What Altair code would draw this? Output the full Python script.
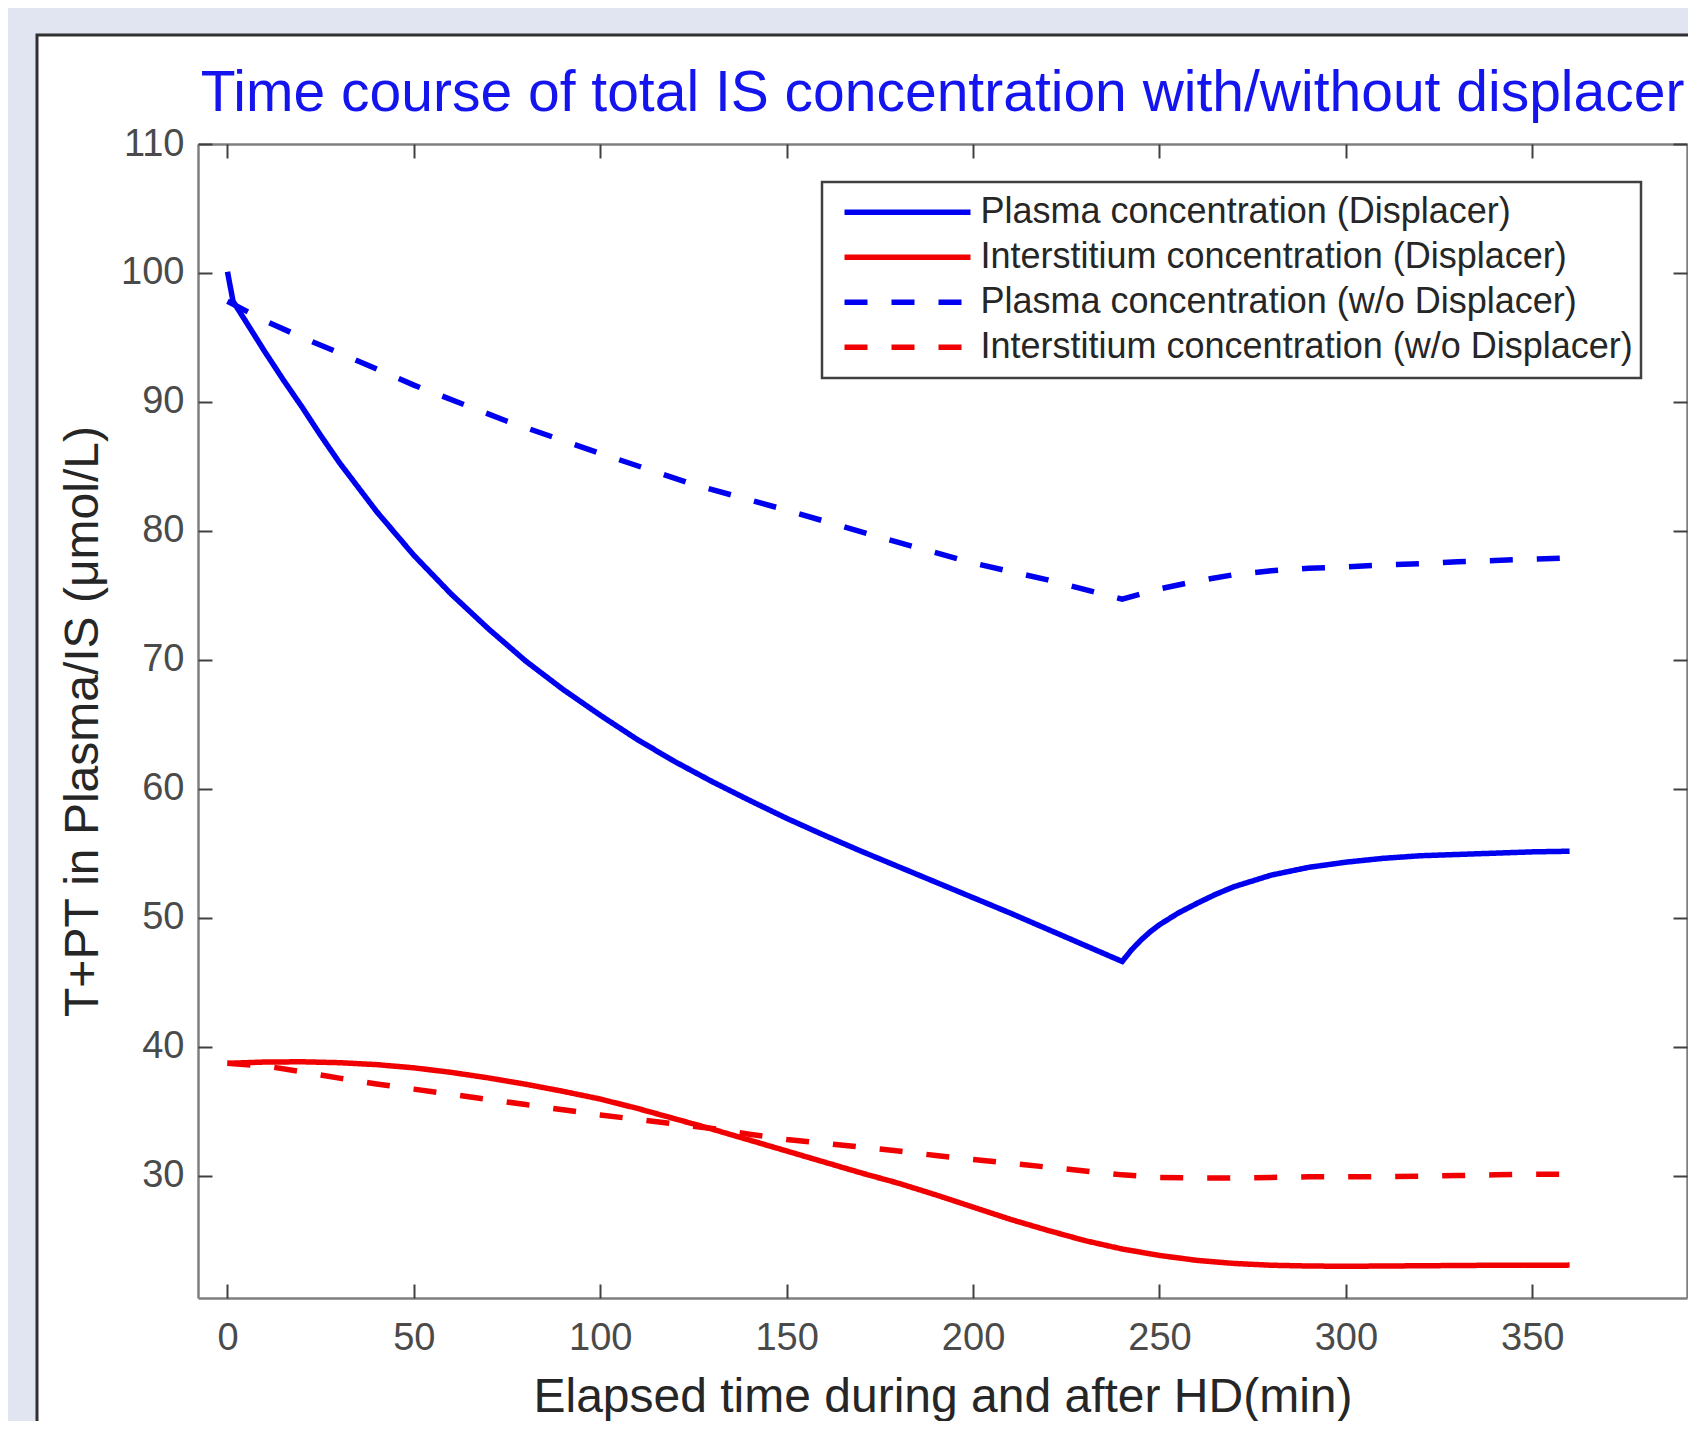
import altair as alt
import pandas as pd

# ---------------- data ----------------
series_names = [
    "Plasma concentration (Displacer)",
    "Interstitium concentration (Displacer)",
    "Plasma concentration (w/o Displacer)",
    "Interstitium concentration (w/o Displacer)",
]
series_colors = ["#0000f0", "#f00000", "#0000f0", "#f00000"]

plasma_disp_t = [0, 1.5, 5, 10, 15, 20, 25, 30, 40, 50, 60, 70, 80, 90, 100, 110, 120, 130,
                 140, 150, 160, 170, 180, 190, 200, 210, 220, 230, 240, 242.5, 245, 247.5,
                 250, 255, 260, 265, 270, 280, 290, 300, 310, 320, 330, 340, 350, 360]
plasma_disp_c = [100.1, 97.8, 96.2, 93.9, 91.7, 89.6, 87.4, 85.3, 81.5, 78.1, 75.1, 72.4, 69.9,
                 67.7, 65.7, 63.8, 62.1, 60.55, 59.1, 57.7, 56.4, 55.15, 53.95, 52.75, 51.55,
                 50.35, 49.1, 47.85, 46.6, 47.5, 48.25, 48.9, 49.45, 50.35, 51.1, 51.8, 52.4,
                 53.3, 53.9, 54.3, 54.6, 54.8, 54.9, 55.0, 55.1, 55.15]

inter_disp_t = [0, 10, 20, 30, 40, 50, 60, 70, 80, 90, 100, 110, 120, 130, 140, 150, 160, 170,
                180, 190, 200, 210, 220, 230, 240, 250, 260, 270, 280, 290, 300, 320, 340, 360]
inter_disp_c = [38.7, 38.8, 38.82, 38.75, 38.6, 38.35, 38.0, 37.57, 37.08, 36.53, 35.93, 35.2,
                34.4, 33.6, 32.75, 31.9, 31.05, 30.2, 29.4, 28.5, 27.55, 26.6, 25.75, 24.95,
                24.3, 23.8, 23.42, 23.18, 23.04, 22.98, 22.96, 23.0, 23.04, 23.05]

plasma_nodisp_t = [0, 10, 20, 30, 50, 75, 100, 125, 150, 175, 200, 220, 240, 250, 260, 270,
                   280, 290, 300, 310, 320, 330, 340, 350, 360]
plasma_nodisp_c = [97.8, 96.3, 95.0, 93.8, 91.3, 88.5, 86.0, 83.6, 81.6, 79.5, 77.5, 76.2, 74.7,
                   75.5, 76.1, 76.6, 76.9, 77.1, 77.2, 77.35, 77.45, 77.6, 77.7, 77.8, 77.9]

inter_nodisp_t = [0, 10, 20, 30, 40, 50, 60, 70, 80, 90, 100, 110, 120, 130, 140, 150, 160, 170,
                  180, 190, 200, 210, 220, 230, 240, 250, 260, 270, 280, 290, 300, 310, 320,
                  330, 340, 350, 360]
inter_nodisp_c = [38.7, 38.5, 38.05, 37.55, 37.1, 36.7, 36.3, 35.9, 35.5, 35.1, 34.7, 34.35,
                  34.0, 33.65, 33.2, 32.8, 32.5, 32.2, 31.9, 31.55, 31.25, 30.95, 30.65, 30.35,
                  30.05, 29.85, 29.8, 29.8, 29.85, 29.9, 29.9, 29.9, 29.95, 30.0, 30.05, 30.1,
                  30.1]

x_ticks = [0, 50, 100, 150, 200, 250, 300, 350]
y_ticks = [30, 40, 50, 60, 70, 80, 90, 100, 110]
x_domain = [-7.9, 391.5]
y_domain = [20.5, 110]

# ---------------- table ----------------
rows = []
for name, ts, cs in [
    (series_names[0], plasma_disp_t, plasma_disp_c),
    (series_names[1], inter_disp_t, inter_disp_c),
    (series_names[2], plasma_nodisp_t, plasma_nodisp_c),
    (series_names[3], inter_nodisp_t, inter_nodisp_c),
]:
    for i, (t, c) in enumerate(zip(ts, cs)):
        rows.append({"series": name, "t": t, "c": c, "i": i})
df = pd.DataFrame(rows)

FONT = "Liberation Sans"
W, H = 1489, 1154
TICK = 14

xs = alt.Scale(domain=x_domain, nice=False, zero=False)
ys = alt.Scale(domain=y_domain, nice=False, zero=False)

dash_range = [[1, 0], [1, 0], [23, 24], [23, 24]]

legend_kw = dict(title=None, orient="none", legendX=624, legendY=38)

lines = alt.Chart(df).mark_line(strokeWidth=5.5).encode(
    x=alt.X("t:Q", scale=xs, axis=alt.Axis(
        orient="bottom", values=x_ticks, title="Elapsed time during and after HD(min)",
        ticks=False, grid=False, domain=True, domainColor="#7f7f7f", domainWidth=2.5,
        labelFont=FONT, labelFontSize=38, labelColor="#4a4a4a", labelPadding=21,
        titleFont=FONT, titleFontSize=48, titleFontWeight="normal", titleColor="#262626",
        titlePadding=16, zindex=1)),
    y=alt.Y("c:Q", scale=ys, axis=alt.Axis(
        orient="left", values=y_ticks, title="T+PT in Plasma/IS (\u03bcmol/L)",
        ticks=False, grid=False, domain=True, domainColor="#7f7f7f", domainWidth=2.5,
        labelFont=FONT, labelFontSize=38, labelColor="#4a4a4a", labelPadding=14,
        titleFont=FONT, titleFontSize=48, titleFontWeight="normal", titleColor="#262626",
        titlePadding=13, zindex=1)),
    color=alt.Color("series:N", scale=alt.Scale(domain=series_names, range=series_colors),
                    legend=alt.Legend(**legend_kw)),
    strokeDash=alt.StrokeDash("series:N", scale=alt.Scale(domain=series_names, range=dash_range),
                              legend=alt.Legend(**legend_kw)),
    order="i:Q",
)

def ghost(x_axis, y_axis):
    return alt.Chart(df).mark_line(strokeOpacity=0, strokeWidth=0).encode(
        x=alt.X("t:Q", scale=xs, axis=x_axis),
        y=alt.Y("c:Q", scale=ys, axis=y_axis),
        detail="series:N",
        order="i:Q",
    )

def tick_axis(orient, values):
    return alt.Axis(orient=orient, values=values, offset=-TICK, tickSize=TICK, ticks=True,
                    tickColor="#404040", tickWidth=2, labels=False, domain=False, grid=False,
                    title=None, zindex=1)

def frame_axis(orient, values):
    return alt.Axis(orient=orient, values=values, ticks=False, labels=False, domain=True,
                    domainColor="#7f7f7f", domainWidth=2.5, grid=False, title=None, zindex=1)

box_top_right = ghost(frame_axis("top", x_ticks), frame_axis("right", y_ticks))
ticks_bl = ghost(tick_axis("bottom", x_ticks), tick_axis("left", y_ticks))
ticks_tr = ghost(tick_axis("top", x_ticks), tick_axis("right", y_ticks))

# white figure panel on the grey window background
panel = alt.Chart(pd.DataFrame({"k": [0]})).mark_rect(
    fill="white", stroke="#303030", strokeWidth=3
).encode(x=alt.value(-161), x2=alt.value(1498), y=alt.value(-109), y2=alt.value(1285))

chart = alt.layer(panel, lines, box_top_right, ticks_bl, ticks_tr).resolve_axis(
    x="independent", y="independent"
).properties(
    width=W, height=H,
    title=alt.Title("Time course of total IS concentration with/without displacer",
                    font=FONT, fontSize=57, fontWeight="normal", color="#1414ee",
                    anchor="middle", frame="group", offset=21, dy=110.5),
    autosize=alt.AutoSizeParams(type="none"),
    padding={"left": 190, "top": 136, "right": 1, "bottom": 123},
    background="#e1e5f1",
).configure_view(strokeOpacity=0).configure_legend(
    fillColor="white", strokeColor="#404040", strokeWidth=2.5, padding=8,
    symbolType="stroke", symbolSize=15876, symbolStrokeWidth=5.5, clipHeight=44.7,
    rowPadding=0, symbolOffset=11.5, labelOffset=7, labelFont=FONT, labelFontSize=36,
    labelColor="#262626", labelLimit=2000,
)

chart.save("out.html", embed_options={"renderer": "svg", "actions": False})
